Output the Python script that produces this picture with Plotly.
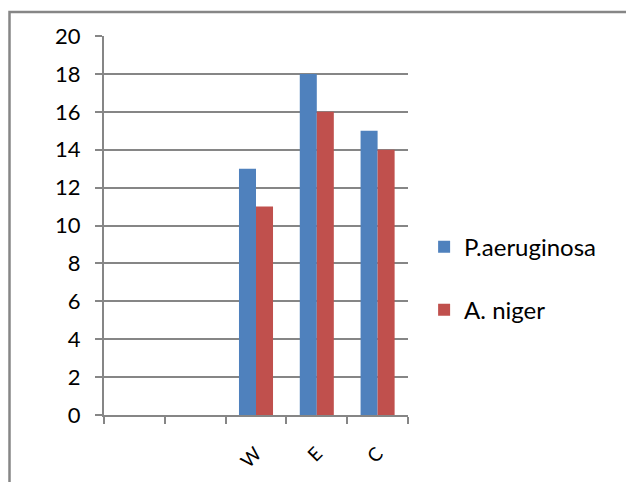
import plotly.graph_objects as go

categories = [" ", "  ", "W", "E", "C"]
pa_values = [None, None, 13, 18, 15]
an_values = [None, None, 11, 16, 14]
y_ticks = [0, 2, 4, 6, 8, 10, 12, 14, 16, 18, 20]

FONT = "Lato"
GRAY = "#868686"

fig = go.Figure()
fig.add_trace(go.Bar(x=categories, y=pa_values, name="P.aeruginosa",
                     marker=dict(color="#4F81BD", line=dict(width=0)),
                     legendgroup="a"))
fig.add_trace(go.Bar(x=categories, y=an_values, name="A. niger",
                     marker=dict(color="#C0504D", line=dict(width=0)),
                     legendgroup="b"))

fig.update_layout(
    width=626, height=482,
    margin=dict(l=104, r=218, t=36, b=67),
    paper_bgcolor="white", plot_bgcolor="white",
    barmode="group", bargap=0.44, bargroupgap=0,
    font=dict(family=FONT, size=22, color="black"),
    showlegend=True,
    legend=dict(x=1.053, y=0.36, xanchor="left", yanchor="middle",
                font=dict(family=FONT, size=24, color="black"),
                tracegroupgap=29, traceorder="grouped", bgcolor="rgba(0,0,0,0)"),
    xaxis=dict(type="category", categoryorder="array", categoryarray=categories,
               showline=True, linecolor=GRAY, linewidth=2, automargin=False,
               ticks="outside", tickson="boundaries", ticklen=7, tickcolor=GRAY, tickwidth=2,
               tickangle=-45, showgrid=False, ticklabelstandoff=18,
               tickfont=dict(family=FONT, size=19)),
    yaxis=dict(range=[0, 20], tickvals=y_ticks, showline=True, linecolor=GRAY, linewidth=2,
               automargin=False,
               ticks="outside", ticklen=7, tickcolor=GRAY, tickwidth=2,
               showgrid=True, gridcolor=GRAY, gridwidth=2, zeroline=False,
               ticklabelstandoff=10,
               tickfont=dict(family=FONT, size=22)),
    shapes=[dict(type="rect", xref="paper", yref="paper",
                 x0=(9.5 - 104) / 304, x1=(640 - 104) / 304,
                 y0=(415 - 500) / 379, y1=(415 - 12) / 379,
                 line=dict(color=GRAY, width=2.5), fillcolor="rgba(0,0,0,0)", layer="below")],
)

fig.write_html(
    "out.html",
    config={"displayModeBar": False},
    post_script="document.body.style.margin='0';document.body.style.overflow='hidden';",
)
